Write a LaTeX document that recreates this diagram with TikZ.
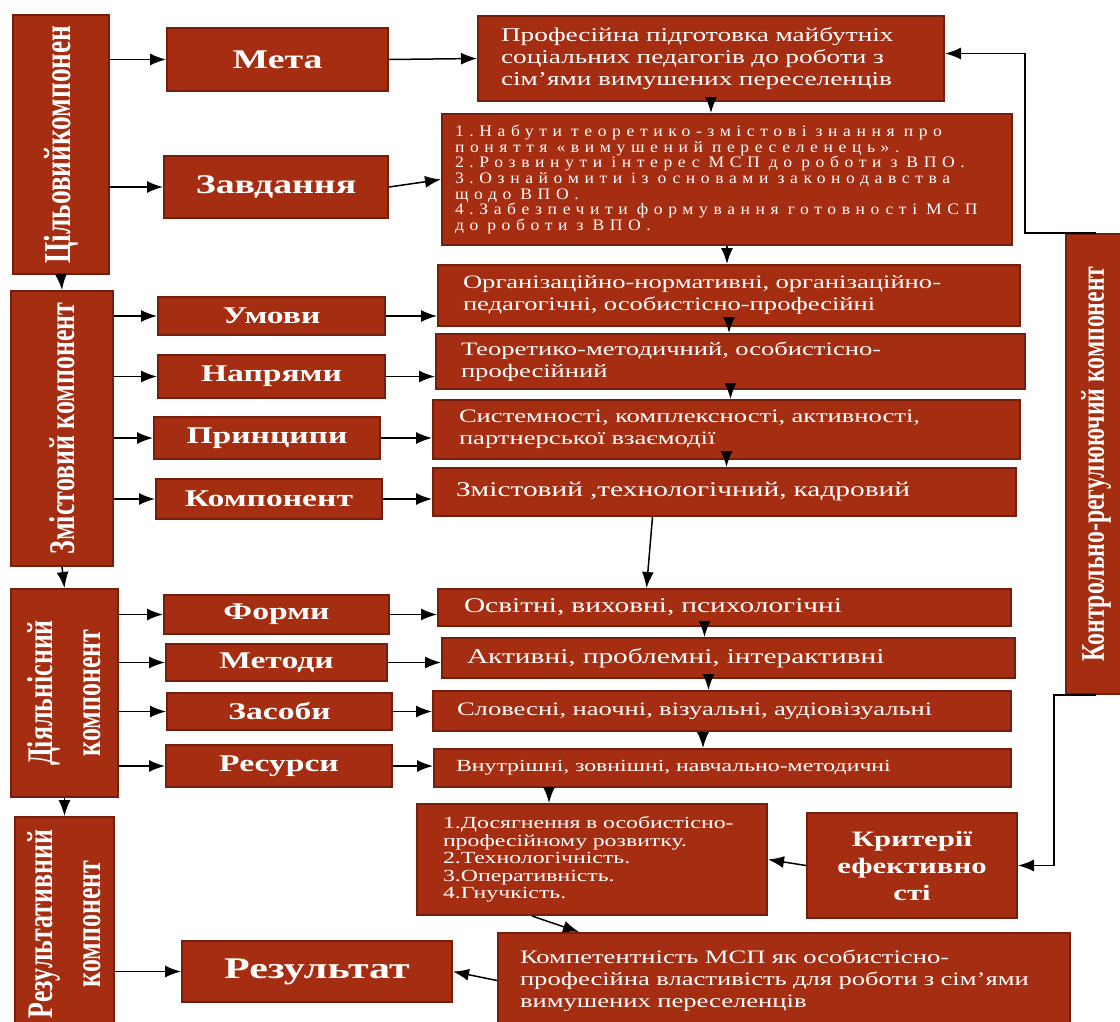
\documentclass[tikz,border=0pt]{standalone}
\usepackage{fontspec}
\setmainfont{Liberation Serif}[FakeStretch=1.4]
\newfontfamily\vertfont{Liberation Serif}[FakeStretch=0.72]
\newfontfamily\spacedfont{Liberation Serif}[FakeStretch=1.1,LetterSpace=35]
\newcommand\gap{\hspace{9pt}}
\usepackage{xcolor}
\usetikzlibrary{arrows.meta}

\definecolor{boxred}{RGB}{165,45,17}
\definecolor{boxedge}{RGB}{118,30,12}

\tikzset{
  box/.style     = {draw=boxedge, line width=2pt, fill=boxred, text=white,
                    anchor=north west, inner sep=0pt, align=center},
  headbox/.style = {box, font=\bfseries\fontsize{27}{30}\selectfont},
  midbox/.style  = {box, font=\bfseries\fontsize{24}{26}\selectfont},
  txtbox/.style  = {box, align=left, font=\fontsize{19}{22}\selectfont},
  onebox/.style  = {txtbox, font=\fontsize{21}{24}\selectfont},
  vlabel/.style  = {rotate=90, text=white, align=center,
                    font=\vertfont\bfseries\fontsize{36}{48}\selectfont},
  arr/.style     = {-{Latex[length=16pt,width=12pt]}, line width=1.5pt, black}
}

\begin{document}
\begin{tikzpicture}[x=1pt,y=-1pt]
\useasboundingbox (0,0) rectangle (1120,1021);

% left column
\node[box, minimum width=96, minimum height=259,
      label={[vlabel, font=\vertfont\bfseries\fontsize{38}{48}\selectfont]center:Цільовийкомпонен}] (c1) at (12,14) {};
\node[box, minimum width=102, minimum height=275,
      label={[vlabel]center:Змістовий компонент}] (c2) at (10,290) {};
\node[box, minimum width=107, minimum height=208,
      label={[vlabel]center:Діяльнісний\\компонент}] (c3) at (10,588) {};
\node[box, minimum width=99, minimum height=214,
      label={[vlabel]center:Результативний\\компонент}] (c4) at (14,816) {};

% middle column
\node[headbox, minimum width=221, minimum height=63] (meta) at (166,27) {Мета};
\node[headbox, minimum width=224, minimum height=62] (zavd) at (163,155) {Завдання};
\node[midbox, minimum width=227, minimum height=38] (umovy) at (157,296) {Умови};
\node[midbox, minimum width=227, minimum height=43] (napr) at (157,354) {Напрями};
\node[midbox, minimum width=226, minimum height=42] (pryn) at (153,416) {Принципи};
\node[midbox, minimum width=226, minimum height=40] (kompn) at (155,478) {Компонент};
\node[midbox, minimum width=225, minimum height=39] (formy) at (163,594) {Форми};
\node[midbox, minimum width=221, minimum height=37] (metody) at (165,643) {Методи};
\node[midbox, minimum width=225, minimum height=37] (zasoby) at (166,692) {Засоби};
\node[midbox, minimum width=226, minimum height=42] (resursy) at (165,744) {Ресурси};
\node[headbox, minimum width=270, minimum height=61,
      font=\bfseries\fontsize{30}{32}\selectfont] (result) at (181,940) {Результат};

% right column
\node[txtbox, minimum width=466, minimum height=85, text width=420,
      font=\fontsize{19.5}{22}\selectfont] (prof) at (477,15)
  {Професійна підготовка майбутніх\\соціальних педагогів до роботи з\\сім’ями вимушених переселенців};
\node[txtbox, minimum width=570, minimum height=131, text width=544,
      font=\spacedfont\fontsize{16}{15.7}\selectfont] (tasks) at (441,113)
  {1.Набути\gap теоретико-змістові\gap знання\gap про\\поняття\gap «вимушений\gap переселенець».\\2.Розвинути\gap інтерес\gap МСП\gap до\gap роботи\gap з\gap ВПО.\\3.Ознайомити\gap із\gap основами\gap законодавства\\щодо\gap ВПО.\\4.Забезпечити\gap формування\gap готовності\gap МСП\\до\gap роботи\gap з\gap ВПО.};
\node[txtbox, minimum width=582, minimum height=61, text width=532] (umt) at (437,264)
  {Організаційно-нормативні, організаційно-\\педагогічні, особистісно-професійні};
\node[txtbox, minimum width=589, minimum height=55, text width=539] (napt) at (435,333)
  {Теоретико-методичний, особистісно-\\професійний};
\node[txtbox, minimum width=587, minimum height=59, text width=535] (prt) at (432,399)
  {Системності, комплексності, активності,\\партнерської взаємодії};
\node[onebox, minimum width=583, minimum height=48, text width=537] (kmt) at (432,467)
  {Змістовий ,технологічний, кадровий};
\node[onebox, minimum width=573, minimum height=37, text width=521] (fmt) at (437,588)
  {Освітні, виховні, психологічні};
\node[onebox, minimum width=573, minimum height=40, text width=523] (mtt) at (441,637)
  {Активні, проблемні, інтерактивні};
\node[txtbox, minimum width=578, minimum height=40, text width=530,
      font=\fontsize{19}{22}\selectfont] (zst) at (432,690)
  {Словесні, наочні, візуальні, аудіовізуальні};
\node[txtbox, minimum width=577, minimum height=38, text width=533,
      font=\fontsize{17}{20}\selectfont] (rst) at (433,748)
  {Внутрішні, зовнішні, навчально-методичні};
\node[txtbox, minimum width=350, minimum height=111, text width=298,
      font=\fontsize{17}{17.6}\selectfont] (krl) at (416,803)
  {1.Досягнення в особистісно-\\професійному розвитку.\\2.Технологічність.\\3.Оперативність.\\4.Гнучкість.};
\node[box, minimum width=210, minimum height=105,
      font=\bfseries\fontsize{22}{27}\selectfont] (ke) at (806,812)
  {Критерії\\ефективно\\сті};
\node[txtbox, minimum width=572, minimum height=95, text width=528] (kmp) at (497,932)
  {Компетентність МСП як особистісно-\\професійна властивість для роботи з сім’ями\\вимушених переселенців};
\node[box, minimum width=60, minimum height=460,
      label={[vlabel, font=\vertfont\bfseries\fontsize{33}{40}\selectfont]center:Контрольно-регулюючий компонент}] (cr) at (1065,233) {};

% left column links
\draw[arr] (c1.south) -- (c2.north);
\draw[arr] (c2.south) -- (c3.north);
\draw[arr] (c3.south) -- (c4.north);
\draw[arr] (c1.east |- meta.west) -- (meta.west);
\draw[arr] (c1.east |- zavd.west) -- (zavd.west);
\draw[arr] (c2.east |- umovy.west) -- (umovy.west);
\draw[arr] (c2.east |- napr.west) -- (napr.west);
\draw[arr] (c2.east |- pryn.west) -- (pryn.west);
\draw[arr] (c2.east |- kompn.west) -- (kompn.west);
\draw[arr] (c3.east |- formy.west) -- (formy.west);
\draw[arr] (c3.east |- metody.west) -- (metody.west);
\draw[arr] (c3.east |- zasoby.west) -- (zasoby.west);
\draw[arr] (c3.east |- resursy.west) -- (resursy.west);
\draw[arr] (c4.east |- result.west) -- (result.west);

% middle to right
\draw[arr] (meta.east) -- (prof.west);
\draw[arr] (zavd.east) -- (tasks.west);
\draw[arr] (umovy.east) -- (umovy.east -| umt.west);
\draw[arr] (napr.east) -- (napr.east -| napt.west);
\draw[arr] (pryn.east) -- (pryn.east -| prt.west);
\draw[arr] (kompn.east) -- (kompn.east -| kmt.west);
\draw[arr] (formy.east) -- (formy.east -| fmt.west);
\draw[arr] (metody.east) -- (metody.east -| mtt.west);
\draw[arr] (zasoby.east) -- (zasoby.east -| zst.west);
\draw[arr] (resursy.east) -- (resursy.east -| rst.west);

% right column chain
\draw[arr] ([xshift=-16]prof.south -| tasks.north) -- ([xshift=-16]tasks.north);
\draw[arr] (tasks.south) -- (tasks.south |- umt.north);
\draw[arr] (umt.south) -- (umt.south |- napt.north);
\draw[arr] (napt.south) -- (napt.south |- prt.north);
\draw[arr] (prt.south) -- (prt.south |- kmt.north);
\draw[arr] ([xshift=-72]kmt.south) -- ([xshift=-78]fmt.north);
\draw[arr] ([xshift=-20]fmt.south) -- ([xshift=-20]fmt.south |- mtt.north);
\draw[arr] ([xshift=-20]mtt.south) -- ([xshift=-20]mtt.south |- zst.north);
\draw[arr] ([xshift=-19]zst.south) -- ([xshift=-19]zst.south |- rst.north);
\draw[arr] ([xshift=-43]krl.north |- rst.south) -- ([xshift=-43]krl.north);
\draw[arr] ([xshift=-60]krl.south) -- ([xshift=-205]kmp.north);
\draw[arr] (ke.west) -- (krl.east);
\draw[arr] (kmp.west) -- (result.east);

% feedback
\draw[arr] (cr.north) -- ++(-71,0) |- ([yshift=5]prof.east);
\draw[arr] (cr.south) -- ++(-42,0) |- (ke.east);

\end{tikzpicture}
\end{document}
